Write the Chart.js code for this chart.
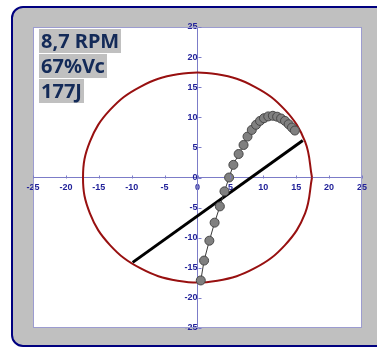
<!DOCTYPE html>
<html>
<head>
<meta charset="utf-8">
<script src="https://cdn.jsdelivr.net/npm/chart.js@4/dist/chart.umd.min.js"></script>
<style>
  html, body { margin: 0; padding: 0; background: #ffffff; overflow: hidden; }
  #wrap { position: relative; width: 377px; height: 347px; }
  #frame {
    position: absolute; left: 11px; top: 6px; width: 380px; height: 337px;
    background: #c0c0c0; border: 2px solid #00007f; border-radius: 12px;
  }
  #c { position: absolute; left: 0; top: 0; }
  #info {
    position: absolute; left: 39px; top: 29px;
    font-family: "Noto Sans", sans-serif; font-weight: bold; font-size: 20px;
    color: #132a58;
  }
  #info div {
    display: table; background: #c0c0c0; line-height: 24px; height: 24px;
    padding: 0 2px 0 2px; margin-bottom: 1px;
  }
</style>
</head>
<body>
<div id="wrap">
  <div id="frame"></div>
  <canvas id="c" width="377" height="347"></canvas>
  <div id="info">
    <div>8,7 RPM</div>
    <div>67%Vc</div>
    <div>177J</div>
  </div>
</div>
<script>
// Reference circle (vertices every 20 degrees, radius ~17.4, drawn smoothed)
const circleX = [17.4, 16.35, 13.33, 8.70, 3.02, -3.02, -8.70, -13.33, -16.35, -17.4,
                 -16.35, -13.33, -8.70, -3.02, 3.02, 8.70, 13.33, 16.35, 17.4];
const circleY = [0, 5.95, 11.18, 15.07, 17.14, 17.14, 15.07, 11.18, 5.95, 0,
                 -5.95, -11.18, -15.07, -17.14, -17.14, -15.07, -11.18, -5.95, 0];

// Straight chord
const chordX = [-9.85, 16.0];
const chordY = [-14.1, 6.15];

// Measured curve
const curveX = [0.5, 1.0, 1.8, 2.6, 3.4, 4.1, 4.8, 5.45, 6.25, 7.0, 7.6, 8.25, 8.9, 9.5,
                10.1, 10.75, 11.45, 12.1, 12.7, 13.3, 13.85, 14.35, 14.8];
const curveY = [-17.1, -13.8, -10.5, -7.5, -4.8, -2.3, 0.0, 2.1, 3.9, 5.4, 6.8, 7.9, 8.75, 9.4,
                9.85, 10.15, 10.25, 10.1, 9.8, 9.4, 8.85, 8.3, 7.8];

// Axis ticks
const axisMin = -25, axisMax = 25, axisStep = 5;

const pts = (xs, ys) => xs.map((x, i) => ({ x: x, y: ys[i] }));

const AXIS_COLOR = '#7c7cc8';
const LABEL_COLOR = '#22229a';

const plotFrame = {
  id: 'plotFrame',
  beforeDraw(chart) {
    const { ctx, chartArea: a } = chart;
    ctx.save();
    ctx.fillStyle = '#ffffff';
    ctx.fillRect(a.left, a.top, a.right - a.left, a.bottom - a.top);
    ctx.restore();
  },
  afterDraw(chart) {
    const { ctx, chartArea: a, scales } = chart;
    ctx.save();
    ctx.strokeStyle = '#9c9cd0';
    ctx.lineWidth = 1;
    ctx.strokeRect(Math.round(a.left) + 0.5, Math.round(a.top) + 0.5,
                   Math.round(a.right - a.left) - 1, Math.round(a.bottom - a.top) - 1);
    // inside tick marks on the zero axes
    const x0 = Math.round(scales.x.getPixelForValue(0)) + 0.5;
    const y0 = Math.round(scales.y.getPixelForValue(0)) + 0.5;
    ctx.strokeStyle = AXIS_COLOR;
    ctx.beginPath();
    for (let v = axisMin; v <= axisMax; v += axisStep) {
      const px = Math.round(scales.x.getPixelForValue(v)) + 0.5;
      ctx.moveTo(px, y0); ctx.lineTo(px, y0 - 3);
      const py = Math.round(scales.y.getPixelForValue(v)) + 0.5;
      ctx.moveTo(x0, py); ctx.lineTo(x0 + 3, py);
    }
    ctx.stroke();
    ctx.restore();
  }
};

const tickFont = { family: '"Liberation Sans", Arial, sans-serif', size: 9, weight: 'bold' };

new Chart(document.getElementById('c'), {
  type: 'scatter',
  data: {
    datasets: [
      {
        data: pts(curveX, curveY), showLine: true, order: 0,
        borderColor: '#3a3a3a', borderWidth: 1,
        pointRadius: 4.5, pointBackgroundColor: '#808080',
        pointBorderColor: '#484848', pointBorderWidth: 1
      },
      {
        data: pts(chordX, chordY), showLine: true, order: 1,
        borderColor: '#000000', borderWidth: 3, pointRadius: 0
      },
      {
        data: pts(circleX, circleY), showLine: true, order: 2, tension: 0.4,
        borderColor: '#981010', borderWidth: 2, pointRadius: 0
      }
    ]
  },
  options: {
    responsive: false,
    animation: false,
    devicePixelRatio: 1,
    layout: { padding: { left: 33, right: 15, top: 27, bottom: 19 } },
    plugins: { legend: { display: false }, tooltip: { enabled: false } },
    scales: {
      x: {
        type: 'linear', min: axisMin, max: axisMax, position: { y: 0 },
        ticks: { stepSize: axisStep, color: LABEL_COLOR, font: tickFont, padding: 5,
                 maxRotation: 0, autoSkip: false },
        grid: { display: true, drawOnChartArea: false, drawTicks: false },
        border: { display: true, color: AXIS_COLOR, width: 1 }
      },
      y: {
        type: 'linear', min: axisMin, max: axisMax, position: { x: 0 },
        ticks: { stepSize: axisStep, color: LABEL_COLOR, font: tickFont, padding: 8,
                 autoSkip: false },
        grid: { display: true, drawOnChartArea: false, drawTicks: false },
        border: { display: true, color: AXIS_COLOR, width: 1 }
      }
    }
  },
  plugins: [plotFrame]
});
</script>
</body>
</html>
